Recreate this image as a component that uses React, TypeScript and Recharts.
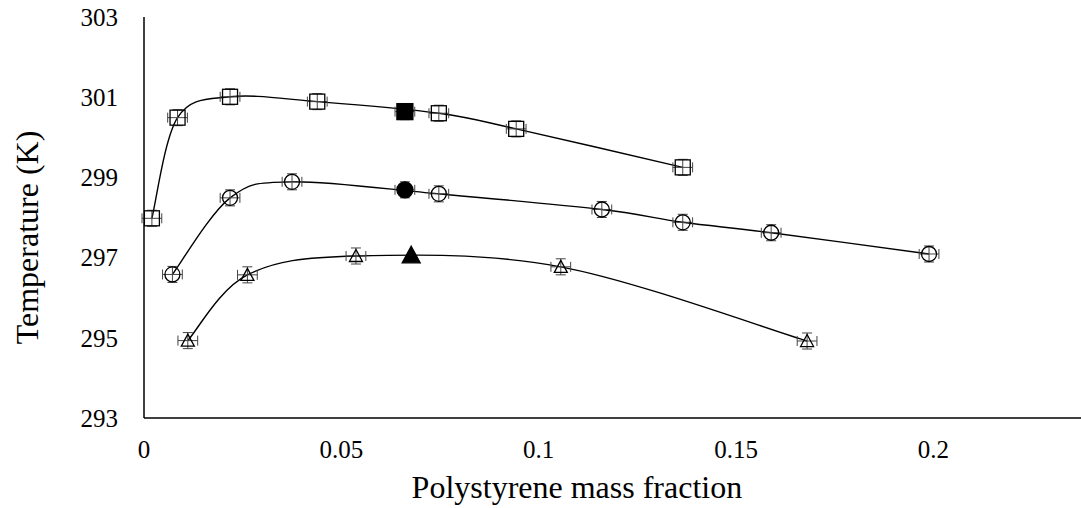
import React from 'react';
import { ComposedChart, Line, Scatter, XAxis, YAxis, ErrorBar, Label } from 'recharts';

// ---- data ----
const squareX = [0.002, 0.0085, 0.0218, 0.0439, 0.0747, 0.0943, 0.1365];
const squareY = [297.98, 300.49, 301.01, 300.89, 300.6, 300.21, 299.25];
const circleX = [0.0072, 0.0218, 0.0375, 0.0747, 0.116, 0.1365, 0.1589, 0.1989];
const circleY = [296.58, 298.49, 298.89, 298.59, 298.2, 297.88, 297.62, 297.09];
const triangleX = [0.0111, 0.0262, 0.0537, 0.1056, 0.168];
const triangleY = [294.93, 296.57, 297.04, 296.77, 294.92];
const filledSquareX = [0.0661];
const filledSquareY = [300.64];
const filledCircleX = [0.0661];
const filledCircleY = [298.69];
const filledTriangleX = [0.0677];
const filledTriangleY = [297.06];
const xErr = 0.0025;
const yErr = 0.2;
const xTicks = [0, 0.05, 0.1, 0.15, 0.2];
const yTicks = [293, 295, 297, 299, 301, 303];
const xLabel = 'Polystyrene mass fraction';
const yLabel = 'Temperature (K)';

const pts = (xs: number[], ys: number[]) => xs.map((x, i) => ({ x, y: ys[i], ex: xErr, ey: yErr }));

const squareData = pts(squareX, squareY);
const circleData = pts(circleX, circleY);
const triangleData = pts(triangleX, triangleY);
const fSquareData = pts(filledSquareX, filledSquareY);
const fCircleData = pts(filledCircleX, filledCircleY);
const fTriangleData = pts(filledTriangleX, filledTriangleY);

// Excel-like smooth curve (Catmull-Rom style Bezier)
const excelCurve: any = (context: any) => {
  let p: number[][] = [];
  return {
    areaStart() {},
    areaEnd() {},
    lineStart() { p = []; },
    point(x: number, y: number) { p.push([+x, +y]); },
    lineEnd() {
      const n = p.length;
      if (!n) return;
      context.moveTo(p[0][0], p[0][1]);
      if (n === 1) return;
      for (let i = 0; i < n - 1; i++) {
        const p0 = p[Math.max(i - 1, 0)];
        const p1 = p[i];
        const p2 = p[i + 1];
        const p3 = p[Math.min(i + 2, n - 1)];
        context.bezierCurveTo(
          p1[0] + (p2[0] - p0[0]) / 6, p1[1] + (p2[1] - p0[1]) / 6,
          p2[0] - (p3[0] - p1[0]) / 6, p2[1] - (p3[1] - p1[1]) / 6,
          p2[0], p2[1]
        );
      }
    },
  };
};

const FONT = '"Liberation Serif", "Times New Roman", serif';

const SquareShape = (filled: boolean) => (props: any) => {
  const { cx, cy } = props;
  const s = filled ? 16 : 15;
  return <rect x={cx - s / 2} y={cy - s / 2} width={s} height={s} fill={filled ? '#000' : 'none'} stroke="#000" strokeWidth={1.3} />;
};
const CircleShape = (filled: boolean) => (props: any) => {
  const { cx, cy } = props;
  return <circle cx={cx} cy={cy} r={filled ? 8 : 7.5} fill={filled ? '#000' : 'none'} stroke="#000" strokeWidth={1.3} />;
};
const TriangleShape = (filled: boolean) => (props: any) => {
  const { cx, cy } = props;
  const w = filled ? 9 : 6.5;
  const h = filled ? 9 : 6.5;
  const d = `M${cx},${cy - h} L${cx + w},${cy + h * 0.85} L${cx - w},${cy + h * 0.85} Z`;
  return <path d={d} fill={filled ? '#000' : 'none'} stroke="#000" strokeWidth={1.3} />;
};

const errBars = () => [
  <ErrorBar key="ex" dataKey="ex" direction="x" width={5} stroke="#444" strokeWidth={1} />,
  <ErrorBar key="ey" dataKey="ey" direction="y" width={5} stroke="#444" strokeWidth={1} />,
];

export default function App() {
  return (
    <div style={{ width: 1081, height: 508, background: '#fff' }}>
      <style>{'body{margin:0;background:#fff}'}</style>
      <ComposedChart width={1081} height={508} margin={{ top: 17, right: 0, bottom: 0, left: 0 }}>
        <XAxis
          dataKey="x"
          type="number"
          domain={[0, 0.2374]}
          allowDataOverflow
          ticks={xTicks}
          tickFormatter={(v: number) => String(v)}
          tickLine={false}
          tickSize={0}
          tickMargin={22}
          height={90}
          axisLine={{ stroke: '#000', strokeWidth: 1.5 }}
          tick={{ fontFamily: FONT, fontSize: 25, fill: '#000' }}
        >
          <Label
            content={(p: any) => {
              const vb = p.viewBox;
              return (
                <text x={vb.x + vb.width * 0.462} y={vb.y + 80} textAnchor="middle" fontFamily={FONT} fontSize={32} fill="#000">
                  {xLabel}
                </text>
              );
            }}
          />
        </XAxis>
        <YAxis
          type="number"
          domain={[293, 303]}
          ticks={yTicks}
          width={144}
          tickLine={false}
          tickSize={0}
          tickMargin={26}
          axisLine={{ stroke: '#000', strokeWidth: 1.5 }}
          tick={{ fontFamily: FONT, fontSize: 25, fill: '#000' }}
        >
          <Label
            content={(p: any) => {
              const vb = p.viewBox;
              const x = vb.x + 27;
              const y = vb.y + vb.height / 2 + 20;
              return (
                <text x={x} y={y} transform={`rotate(-90, ${x}, ${y})`} textAnchor="middle" dominantBaseline="central" fontFamily={FONT} fontSize={32} fill="#000">
                  {yLabel}
                </text>
              );
            }}
          />
        </YAxis>
        <Line data={squareData} dataKey="y" type={excelCurve} stroke="#000" strokeWidth={1.4} dot={false} activeDot={false} isAnimationActive={false} />
        <Line data={circleData} dataKey="y" type={excelCurve} stroke="#000" strokeWidth={1.4} dot={false} activeDot={false} isAnimationActive={false} />
        <Line data={triangleData} dataKey="y" type={excelCurve} stroke="#000" strokeWidth={1.4} dot={false} activeDot={false} isAnimationActive={false} />
        <Scatter data={squareData} dataKey="y" shape={SquareShape(false)} isAnimationActive={false}>{errBars()}</Scatter>
        <Scatter data={circleData} dataKey="y" shape={CircleShape(false)} isAnimationActive={false}>{errBars()}</Scatter>
        <Scatter data={triangleData} dataKey="y" shape={TriangleShape(false)} isAnimationActive={false}>{errBars()}</Scatter>
        <Scatter data={fSquareData} dataKey="y" shape={SquareShape(true)} isAnimationActive={false}>{errBars()}</Scatter>
        <Scatter data={fCircleData} dataKey="y" shape={CircleShape(true)} isAnimationActive={false}>{errBars()}</Scatter>
        <Scatter data={fTriangleData} dataKey="y" shape={TriangleShape(true)} isAnimationActive={false} />
      </ComposedChart>
    </div>
  );
}
